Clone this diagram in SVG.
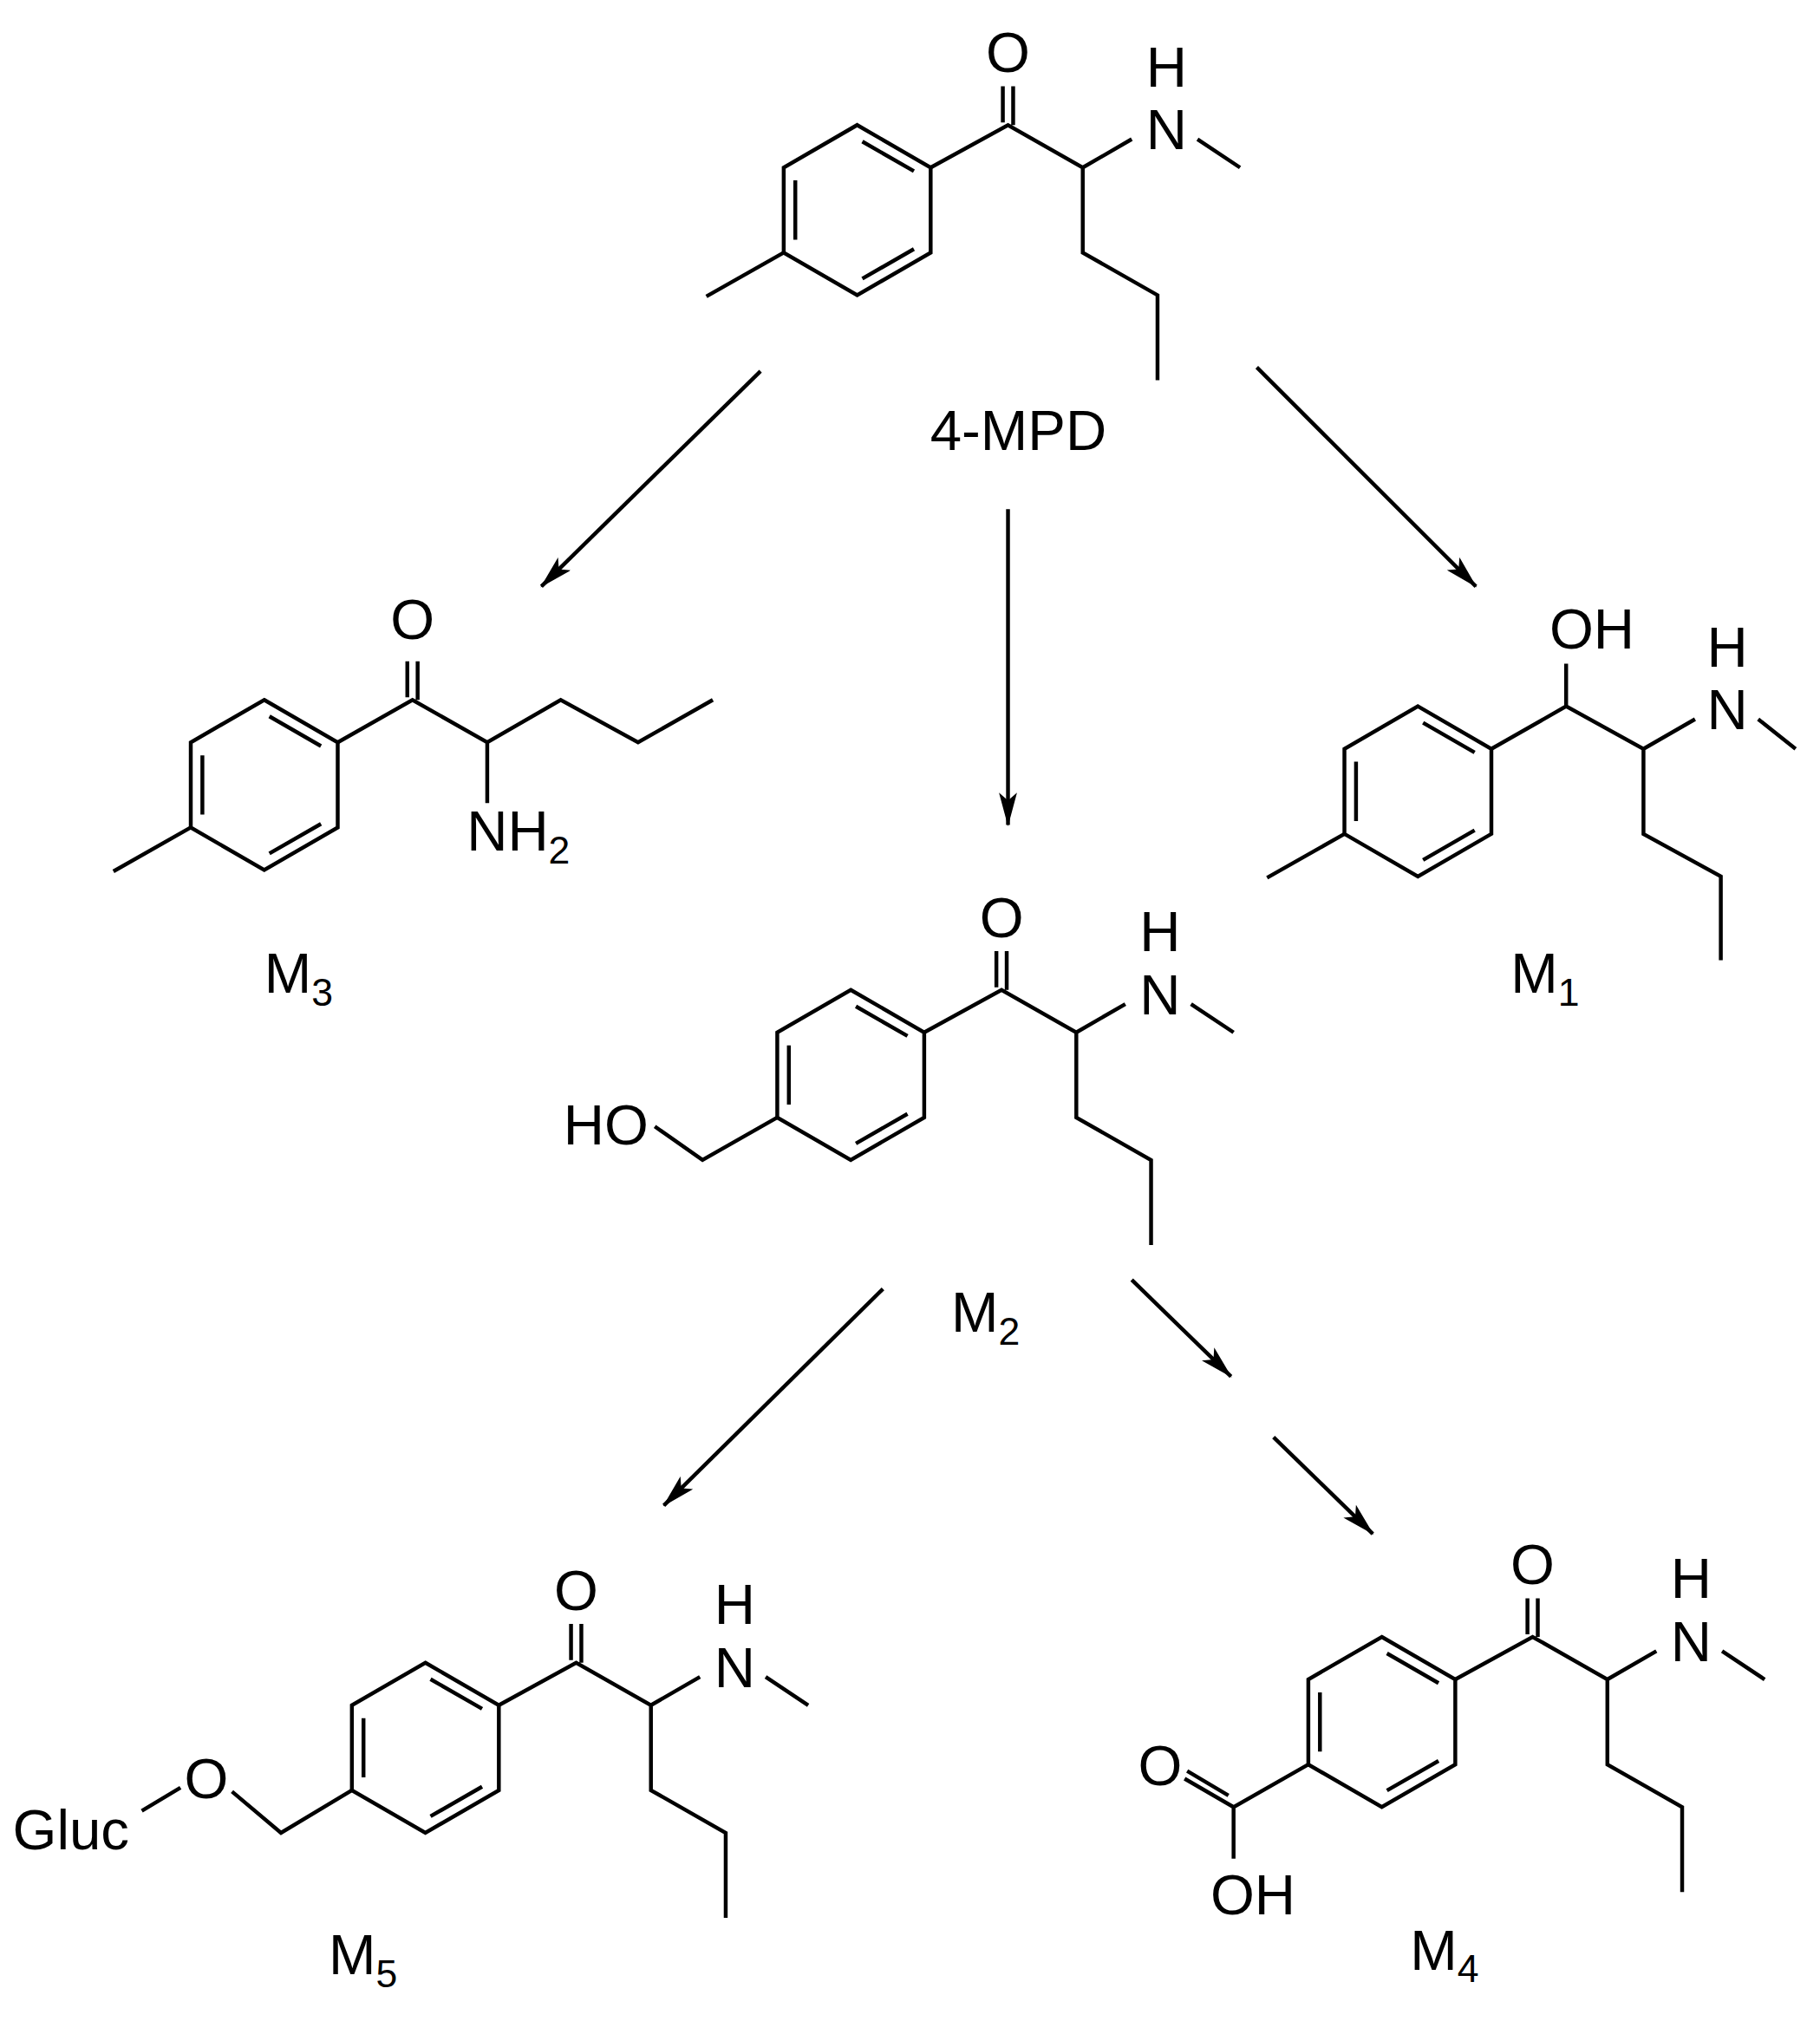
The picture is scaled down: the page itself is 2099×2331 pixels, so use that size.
<svg xmlns="http://www.w3.org/2000/svg" xmlns:xlink="http://www.w3.org/1999/xlink" width="2099" height="2331" viewBox="0 0 2099 2331">
<style>
.b{fill:none;stroke:#000;stroke-width:3;stroke-linecap:butt;stroke-linejoin:miter}
.t{font-family:"Liberation Sans",Arial,sans-serif;font-size:44px;fill:#000}
.s{font-size:30px}
.a{stroke:#000;stroke-width:3;fill:none}
</style>
<defs>
<marker id="ah" viewBox="0 0 26 14" refX="25" refY="7" markerWidth="26" markerHeight="14" markerUnits="userSpaceOnUse" orient="auto">
<path d="M0,0 L26,7 L0,14 L6,7 Z" fill="#000"/>
</marker>
<g id="ring">
<path class="b" d="M0,0 L57,33 L57,99 L0,132 L-57,99 L-57,33 Z M4,12.8 L44,35.8 M44,96.2 L4,119.2 M-48,43 L-48,89"/>
</g>
<g id="core">
<use xlink:href="#ring"/>
<path class="b" d="M57,33 L117,0 L175,33 L175,99 L233,132 L233,198 M113,-2 L113,-30 M121,0 L121,-30 M175,33 L213,11 M264,11 L297,33"/>
<text class="t" x="117" y="-41" text-anchor="middle">O</text>
<text class="t" x="240" y="19" text-anchor="middle">N</text>
<text class="t" x="240" y="-30" text-anchor="middle">H</text>
</g>
</defs>
<rect width="2099" height="2331" fill="#fff"/>
<g transform="scale(1.4866)">
<g id="mpd" transform="translate(665,97)">
<use xlink:href="#core"/>
<path class="b" d="M-57,99 L-117,133"/>
<text class="t" x="125" y="252" text-anchor="middle">4-MPD</text>
</g>
<g id="m3" transform="translate(205,543)">
<use xlink:href="#ring"/>
<path class="b" d="M-57,99 L-117,133 M57,33 L115,0 L173,33 L230,0 L290,33 L348,0 M111,-2 L111,-30 M119,0 L119,-30 M173,33 L173,80"/>
<text class="t" x="115" y="-47" text-anchor="middle">O</text>
<text class="t" x="157" y="117">NH<tspan class="s" dy="10">2</tspan></text>
<text class="t" x="0" y="227">M<tspan class="s" dy="10">3</tspan></text>
</g>
<g id="m1" transform="translate(1100,548)">
<use xlink:href="#ring"/>
<path class="b" d="M-57,99 L-117,133 M57,33 L115,0 L175,33 L175,99 L235,132 L235,197 M115,0 L115,-33 M175,33 L215,10 M264,10 L293,33"/>
<text class="t" x="135" y="-45" text-anchor="middle">OH</text>
<text class="t" x="240" y="18" text-anchor="middle">N</text>
<text class="t" x="240" y="-31" text-anchor="middle">H</text>
<text class="t" x="72" y="222">M<tspan class="s" dy="10">1</tspan></text>
</g>
<g id="m2" transform="translate(660,768)">
<use xlink:href="#core"/>
<path class="b" d="M-57,99 L-115,132 L-152,106"/>
<text class="t" x="-190" y="120" text-anchor="middle">HO</text>
<text class="t" x="78" y="265">M<tspan class="s" dy="10">2</tspan></text>
</g>
<g id="m5" transform="translate(330,1290)">
<use xlink:href="#core"/>
<path class="b" d="M-57,99 L-112,132 L-150,100 M-190,97 L-220,115"/>
<text class="t" x="-170" y="105" text-anchor="middle">O</text>
<text class="t" x="-275" y="145" text-anchor="middle">Gluc</text>
<text class="t" x="-75" y="242">M<tspan class="s" dy="10">5</tspan></text>
</g>
<g id="m4" transform="translate(1072,1270)">
<use xlink:href="#core"/>
<path class="b" d="M-57,99 L-115,132 L-115,172 M-115,132 L-153,110 M-119,123 L-151,104"/>
<text class="t" x="-172" y="115" text-anchor="middle">O</text>
<text class="t" x="-100" y="215" text-anchor="middle">OH</text>
<text class="t" x="22" y="258">M<tspan class="s" dy="10">4</tspan></text>
</g>
<g id="connectors">
<line class="a" x1="590" y1="288" x2="420" y2="455" marker-end="url(#ah)"/>
<line class="a" x1="782" y1="395" x2="782" y2="640" marker-end="url(#ah)"/>
<line class="a" x1="975" y1="285" x2="1145" y2="455" marker-end="url(#ah)"/>
<line class="a" x1="685" y1="1000" x2="515" y2="1168" marker-end="url(#ah)"/>
<line class="a" x1="878" y1="993" x2="955" y2="1068" marker-end="url(#ah)"/>
<line class="a" x1="988" y1="1115" x2="1065" y2="1190" marker-end="url(#ah)"/>
</g>
</g>
</svg>
